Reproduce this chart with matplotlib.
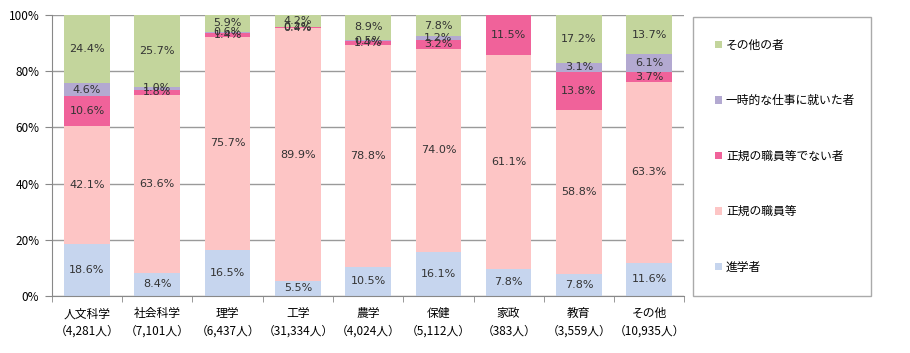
import matplotlib.pyplot as plt
import numpy as np

plt.rcParams['font.family'] = ['Noto Sans CJK JP', 'DejaVu Sans']

fields = ['人文科学', '社会科学', '理学', '工学', '農学', '保健', '家政', '教育', 'その他']
counts = ['4,281人', '7,101人', '6,437人', '31,334人', '4,024人', '5,112人', '383人', '3,559人', '10,935人']

series_names = ['進学者', '正規の職員等', '正規の職員等でない者', '一時的な仕事に就いた者', 'その他の者']
shingaku = [18.6, 8.4, 16.5, 5.5, 10.5, 16.1, 7.8, 7.8, 11.6]
seiki = [42.1, 63.6, 75.7, 89.9, 78.8, 74.0, 61.1, 58.8, 63.3]
hiseiki = [10.6, 1.8, 1.4, 0.4, 1.4, 3.2, 11.5, 13.8, 3.7]
ichiji = [4.6, 1.0, 0.6, 0.2, 0.5, 1.2, 0, 3.1, 6.1]
sonota = [24.4, 25.7, 5.9, 4.2, 8.9, 7.8, 0, 17.2, 13.7]

colors = ['#c6d5ee', '#fdc5c5', '#f0629a', '#b3a9d1', '#c3d59c']

values = np.array([shingaku, seiki, hiseiki, ichiji, sonota])
# 100% stacked: each column is scaled to its own total
shares = values / values.sum(axis=0) * 100

fig = plt.figure(figsize=(9.1, 3.53), dpi=100)
ax = fig.add_axes([0.057, 0.1615, 0.695, 0.796])

x = np.arange(len(fields))
bottom = np.zeros(len(fields))
handles = []
for name, share, raw, c in zip(series_names, shares, values, colors):
    bars = ax.bar(x, share, bottom=bottom, width=0.65, color=c, label=name, zorder=2)
    labels = ['%.1f%%' % v if v > 0 else '' for v in raw]
    ax.bar_label(bars, labels=labels, label_type='center', fontsize=8,
                 color='#333333', family=['DejaVu Sans'])
    bottom += share
    handles.append(bars)

ax.set_xlim(-0.5, len(fields) - 0.5)
ax.set_ylim(0, 100)
ax.set_yticks(range(0, 101, 20))
ax.set_yticklabels(['%d%%' % v for v in range(0, 101, 20)], fontsize=8.5)
ax.yaxis.grid(True, color='#9a9a9a', linewidth=1, zorder=0)
ax.set_axisbelow(True)

ax.set_xticks(x)
ax.set_xticklabels([f + '\n（' + n + '）' for f, n in zip(fields, counts)], fontsize=8.5,
                   linespacing=1.45)
ax.tick_params(axis='x', length=0, pad=8)
ax.set_xticks(np.arange(-0.5, len(fields)), minor=True)
ax.tick_params(axis='x', which='minor', length=4, color='#888888')
ax.tick_params(axis='y', length=5, color='#888888', pad=4)

for s in ['top', 'right']:
    ax.spines[s].set_visible(False)
for s in ['left', 'bottom']:
    ax.spines[s].set_color('#888888')

leg = fig.legend(handles[::-1], series_names[::-1], loc='upper left',
                 bbox_to_anchor=(0.762, 0.167, 0.195, 0.785), mode='expand',
                 fontsize=8.5, handlelength=0.6, handleheight=0.6, handletextpad=0.3,
                 labelspacing=3.6, borderpad=1.85, fancybox=False, edgecolor='#aaaaaa',
                 framealpha=1, borderaxespad=0)
leg.get_frame().set_linewidth(1)

fig.savefig('out.png', dpi=100)
